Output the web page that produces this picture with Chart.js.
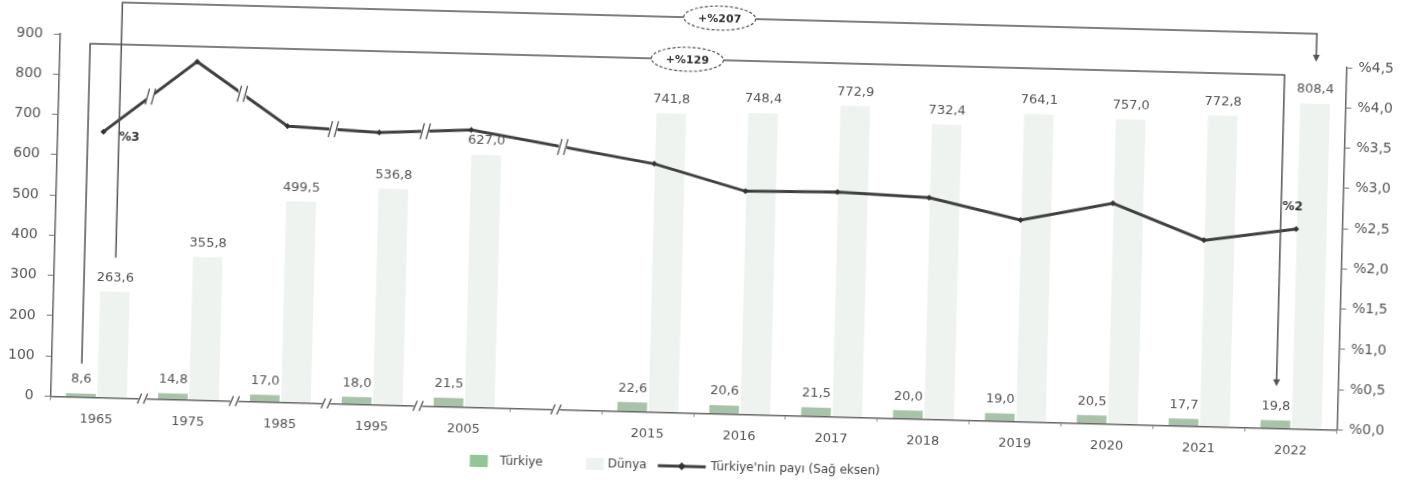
<!DOCTYPE html>
<html lang="tr">
<head>
<meta charset="utf-8">
<script src="https://cdn.jsdelivr.net/npm/chart.js@4.4.1/dist/chart.umd.min.js"></script>
<style>
  html, body { margin: 0; padding: 0; background: #fff; overflow: hidden; }
  /* the scanned reference is tilted a little clockwise */
  #wrap { width: 1423px; height: 494px; transform: rotate(1.5deg); transform-origin: 50% 50%; }
</style>
</head>
<body>
<div id="wrap"><canvas id="chart" width="1423" height="494"></canvas></div>
<script>
const years = ["1965", "1975", "1985", "1995", "2005", "", "2015", "2016", "2017", "2018", "2019", "2020", "2021", "2022"];
const turkiye = [8.6, 14.8, 17.0, 18.0, 21.5, null, 22.6, 20.6, 21.5, 20.0, 19.0, 20.5, 17.7, 19.8];
const dunya = [263.6, 355.8, 499.5, 536.8, 627.0, null, 741.8, 748.4, 772.9, 732.4, 764.1, 757.0, 772.8, 808.4];
// share of Türkiye in %
const pay = [3.3, 4.2, 3.43, 3.38, 3.44, null, 3.08, 2.77, 2.79, 2.75, 2.5, 2.74, 2.31, 2.48];
const payLabels = ["%3", "", "", "", "", "", "", "", "", "", "", "", "", "%2"];
// axis breaks, in category units
const breaks = [0.5, 1.5, 2.5, 3.5, 5];
const changeDunya = "+%207";
const changeTurkiye = "+%129";

const FONT = "'DejaVu Sans', 'Liberation Sans', sans-serif";
Chart.defaults.font.family = FONT;
Chart.defaults.font.size = 13;
Chart.defaults.color = "#555";

const fmt = v => v.toFixed(1).replace(".", ",");

function drawBreak(ctx, px, py, h) {
    ctx.fillStyle = "#fff";
    ctx.fillRect(px - 4, py - h / 2, 8, h);
    ctx.strokeStyle = "#555";
    ctx.lineWidth = 1.3;
    ctx.beginPath();
    ctx.moveTo(px - 5, py + h / 2);
    ctx.lineTo(px - 1, py - h / 2);
    ctx.moveTo(px + 1, py + h / 2);
    ctx.lineTo(px + 5, py - h / 2);
    ctx.stroke();
}

function bracket(ctx, a, b, topY, gapA, gapB, text) {
    ctx.strokeStyle = "#555";
    ctx.fillStyle = "#555";
    ctx.lineWidth = 1.5;
    const tip = b.y - gapB;
    ctx.beginPath();
    ctx.moveTo(a.x, a.y - gapA);
    ctx.lineTo(a.x, topY);
    ctx.lineTo(b.x, topY);
    ctx.lineTo(b.x, tip - 5);
    ctx.stroke();
    ctx.beginPath();
    ctx.moveTo(b.x - 3.5, tip - 7);
    ctx.lineTo(b.x + 3.5, tip - 7);
    ctx.lineTo(b.x, tip);
    ctx.closePath();
    ctx.fill();

    const cx = (a.x + b.x) / 2;
    ctx.beginPath();
    ctx.ellipse(cx, topY, 36, 12, 0, 0, Math.PI * 2);
    ctx.fillStyle = "#fff";
    ctx.fill();
    ctx.setLineDash([3, 2]);
    ctx.lineWidth = 1.2;
    ctx.stroke();
    ctx.setLineDash([]);
    ctx.fillStyle = "#333";
    ctx.font = "bold 11px " + FONT;
    ctx.textAlign = "center";
    ctx.textBaseline = "middle";
    ctx.fillText(text, cx, topY + 1);
}

// legend drawn by hand, Excel style: box, box, line with marker
function drawLegend(chart) {
    const ctx = chart.ctx;
    const ds = chart.data.datasets;
    const y = 467;
    const c = chart.width / 2;
    ctx.font = "12px " + FONT;
    ctx.textAlign = "left";
    ctx.textBaseline = "middle";
    ctx.fillStyle = "#93c595";
    ctx.fillRect(c - 236, y - 6, 18, 12);
    ctx.fillStyle = ds[1].backgroundColor;
    ctx.fillRect(c - 120, y - 6, 18, 12);
    ctx.fillStyle = "#444";
    ctx.fillText(ds[0].label, c - 206, y);
    ctx.fillText(ds[1].label, c - 98, y);

    ctx.strokeStyle = ds[2].borderColor;
    ctx.lineWidth = 3;
    ctx.beginPath();
    ctx.moveTo(c - 48, y);
    ctx.lineTo(c, y);
    ctx.stroke();
    ctx.fillStyle = "#333";
    ctx.beginPath();
    ctx.moveTo(c - 24, y - 4);
    ctx.lineTo(c - 20, y);
    ctx.lineTo(c - 24, y + 4);
    ctx.lineTo(c - 28, y);
    ctx.closePath();
    ctx.fill();
    ctx.fillStyle = "#444";
    ctx.fillText(ds[2].label, c + 5, y);
}

const decor = {
    id: "decor",
    afterDatasetsDraw(chart) {
        const ctx = chart.ctx;
        const area = chart.chartArea;
        const xs = chart.scales.x;
        const tMeta = chart.getDatasetMeta(0);
        const dMeta = chart.getDatasetMeta(1);
        const lMeta = chart.getDatasetMeta(2);
        const last = years.length - 1;
        ctx.save();

        // breaks on the x axis and on the line
        const step = xs.getPixelForValue(1) - xs.getPixelForValue(0);
        breaks.forEach(b => {
            const px = xs.getPixelForValue(0) + b * step;
            drawBreak(ctx, px, area.bottom, 10);
            let l = Math.floor(b), r = Math.ceil(b);
            if (l === r) { l--; r++; }
            while (pay[l] == null) l--;
            while (pay[r] == null) r++;
            const p0 = lMeta.data[l], p1 = lMeta.data[r];
            const py = p0.y + (p1.y - p0.y) * (px - p0.x) / (p1.x - p0.x);
            drawBreak(ctx, px, py, 16);
        });

        // value labels above the bars
        ctx.font = "13px " + FONT;
        ctx.fillStyle = "#555";
        ctx.textAlign = "center";
        ctx.textBaseline = "middle";
        [[tMeta, turkiye], [dMeta, dunya]].forEach(([meta, vals]) => {
            meta.data.forEach((bar, i) => {
                if (vals[i] == null) return;
                ctx.fillText(fmt(vals[i]), bar.x, bar.y - 14);
            });
        });

        // share labels
        ctx.font = "bold 12px " + FONT;
        ctx.fillStyle = "#333";
        ctx.fillText(payLabels[0], lMeta.data[0].x + 26, lMeta.data[0].y + 5);
        ctx.fillText(payLabels[last], lMeta.data[last].x - 4, lMeta.data[last].y - 22);

        // change brackets
        bracket(ctx, dMeta.data[0], dMeta.data[last], area.top - 33, 34, 42, changeDunya);
        bracket(ctx, tMeta.data[0], tMeta.data[last], area.top + 9, 30, 34, changeTurkiye);

        drawLegend(chart);
        ctx.restore();
    }
};

new Chart(document.getElementById("chart"), {
    type: "bar",
    data: {
        labels: years,
        datasets: [
            { label: "Türkiye", data: turkiye, backgroundColor: "#a9c3ab", order: 1,
              categoryPercentage: 0.68, barPercentage: 0.95 },
            { label: "Dünya", data: dunya, backgroundColor: "#eff3f0", order: 1,
              categoryPercentage: 0.68, barPercentage: 0.95 },
            { type: "line", label: "Türkiye'nin payı (Sağ eksen)", data: pay, yAxisID: "y2", order: 0,
              borderColor: "#404040", backgroundColor: "#404040", borderWidth: 3, spanGaps: true,
              pointRadius: 3, pointStyle: "rectRot", pointBackgroundColor: "#333", pointBorderWidth: 0 }
        ]
    },
    options: {
        responsive: false,
        animation: false,
        layout: { padding: { top: 51, right: 28, bottom: 41, left: 0 } },
        plugins: {
            tooltip: { enabled: false },
            legend: { display: false }
        },
        scales: {
            x: {
                grid: { drawOnChartArea: false, tickLength: 4, tickColor: "#888" },
                border: { color: "#666", width: 1.5 },
                ticks: { padding: 10, color: "#555" }
            },
            y: {
                position: "left",
                min: 0, max: 900,
                ticks: { stepSize: 100, padding: 11, color: "#555", font: { size: 14 } },
                grid: { drawOnChartArea: false, tickLength: 6, tickColor: "#777" },
                border: { color: "#666", width: 1.5 }
            },
            y2: {
                position: "right",
                min: 0, max: 4.5,
                ticks: { stepSize: 0.5, padding: 6, color: "#555", font: { size: 14 },
                         callback: v => "%" + fmt(v) },
                grid: { drawOnChartArea: false, tickLength: 6, tickColor: "#777" },
                border: { color: "#666", width: 1.5 }
            }
        }
    },
    plugins: [decor]
});
</script>
</body>
</html>
